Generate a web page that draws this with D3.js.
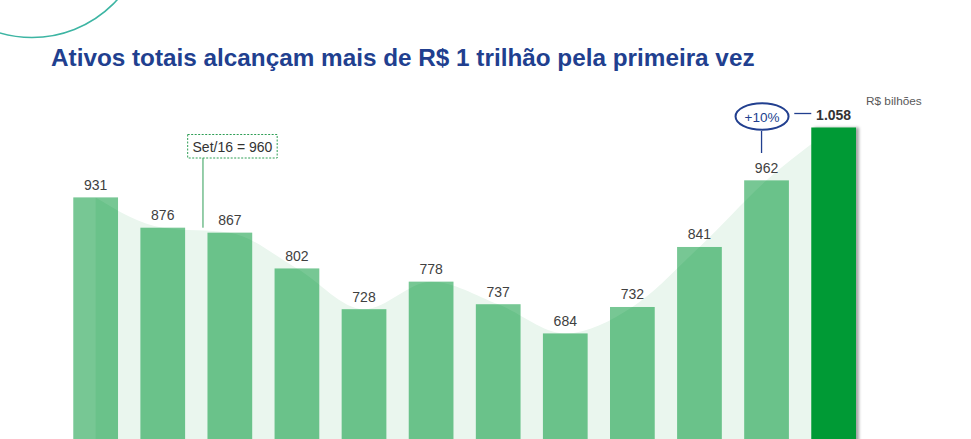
<!DOCTYPE html>
<html>
<head>
<meta charset="utf-8">
<script src="https://cdn.jsdelivr.net/npm/d3@7"></script>
<style>
  html, body { margin: 0; padding: 0; background: #fff; overflow: hidden; }
  svg { display: block; font-family: "Liberation Sans", Arial, sans-serif; }
</style>
</head>
<body>
<svg class="chart" width="971" height="439"></svg>
<script>
// dados (R$ bilhões) - 12 períodos, o último é o destaque
var periods = ["p1", "p2", "p3", "p4", "p5", "p6", "p7", "p8", "p9", "p10", "p11", "p12"];
var values = [931, 876, 867, 802, 728, 778, 737, 684, 732, 841, 962, 1058];
var valueLabels = ["931", "876", "867", "802", "728", "778", "737", "684", "732", "841", "962", "1.058"];
var noteText = "Set/16 = 960";
var growthText = "+10%";

var svg = d3.select(".chart");
var last = values.length - 1;

var x = d3.scaleBand()
    .domain(periods)
    .range([73.3, 856])
    .paddingInner(1 / 3)
    .paddingOuter(0);

var y = d3.scaleLinear()
    .domain([0, 1058])
    .range([710, 127.5]);

function cx(i) { return x(periods[i]) + x.bandwidth() / 2; }

// area clara passando pelo topo (centro) das barras
var area = d3.area()
    .x(function(d, i) { return cx(i); })
    .y0(y(0))
    .y1(function(d) { return y(d); })
    .curve(d3.curveMonotoneX);

var defs = svg.append("defs");
var shadow = defs.append("filter").attr("id", "shadow")
    .attr("x", "-20%").attr("y", "-5%").attr("width", "150%").attr("height", "120%");
shadow.append("feDropShadow")
    .attr("dx", 3).attr("dy", 0).attr("stdDeviation", 1.6)
    .attr("flood-color", "#000").attr("flood-opacity", 0.35);

// mascara: tudo menos a area
var mask = defs.append("mask").attr("id", "outside");
mask.append("rect").attr("width", 971).attr("height", 800).attr("fill", "#fff");
mask.append("path").datum(values).attr("d", area).attr("fill", "#000");

// arco decorativo no canto
svg.append("circle")
    .attr("cx", 32).attr("cy", -77.5).attr("r", 115)
    .attr("fill", "none")
    .attr("stroke", "#3db5a3")
    .attr("stroke-width", 1.6);

// titulo
var title = svg.append("text")
    .attr("x", 51).attr("y", 66)
    .attr("fill", "#213f8f")
    .attr("font-weight", "bold")
    .style("font-size", "24px")
    .text("Ativos totais alcançam mais de R$ 1 trilhão pela primeira vez");
var tw = title.node().getComputedTextLength();
title.style("font-size", (24 * 704 / tw) + "px");

svg.append("text")
    .attr("x", 866).attr("y", 105)
    .attr("fill", "#595959")
    .style("font-size", "11.8px")
    .text("R$ bilhões");

svg.append("path")
    .datum(values)
    .attr("d", area)
    .attr("fill", "#eaf6ee");

// barras
svg.selectAll("rect.bar")
    .data(values)
    .enter().append("rect")
    .attr("class", "bar")
    .attr("x", function(d, i) { return x(periods[i]); })
    .attr("width", x.bandwidth())
    .attr("y", function(d) { return y(d); })
    .attr("height", function(d) { return y(0) - y(d); })
    .attr("fill", function(d, i) { return i == last ? "#009a35" : "#6ac28a"; })
    .attr("filter", function(d, i) { return i == last ? "url(#shadow)" : null; });

// parte das barras fora da area fica um pouco mais clara
svg.append("g")
    .attr("mask", "url(#outside)")
    .selectAll("rect")
    .data(values.slice(0, last))
    .enter().append("rect")
    .attr("x", function(d, i) { return x(periods[i]); })
    .attr("width", x.bandwidth())
    .attr("y", function(d) { return y(d); })
    .attr("height", function(d) { return y(0) - y(d); })
    .attr("fill", "#fff")
    .attr("fill-opacity", 0.09);

// rótulos
svg.selectAll("text.val")
    .data(values)
    .enter().append("text")
    .attr("class", "val")
    .attr("x", function(d, i) { return cx(i); })
    .attr("y", function(d) { return y(d) - 7.5; })
    .attr("text-anchor", "middle")
    .attr("fill", function(d, i) { return i == last ? "#333" : "#404040"; })
    .attr("font-weight", function(d, i) { return i == last ? "bold" : "normal"; })
    .style("font-size", "14px")
    .text(function(d, i) { return valueLabels[i]; });

// nota Set/16
var nx = x(periods[2]) - 4.5;
svg.append("line")
    .attr("x1", nx).attr("x2", nx)
    .attr("y1", 158).attr("y2", y(values[1]))
    .attr("stroke", "#2e9e55").attr("stroke-width", 1);
svg.append("rect")
    .attr("x", nx - 15.3).attr("y", 134.5)
    .attr("width", 89.5).attr("height", 23.5)
    .attr("fill", "#fff")
    .attr("stroke", "#2e9e55").attr("stroke-width", 1)
    .attr("stroke-dasharray", "2,1.5");
svg.append("text")
    .attr("x", nx - 15.3 + 44.75).attr("y", 151.5)
    .attr("text-anchor", "middle")
    .attr("fill", "#333")
    .style("font-size", "14px")
    .text(noteText);

// +10%
var gx = cx(10) - 5;
svg.append("line")
    .attr("x1", gx).attr("x2", gx)
    .attr("y1", 131).attr("y2", 153)
    .attr("stroke", "#213f8f").attr("stroke-width", 1.3);
svg.append("ellipse")
    .attr("cx", gx + 0.5).attr("cy", 116.5)
    .attr("rx", 26.5).attr("ry", 13.2)
    .attr("fill", "#fff")
    .attr("stroke", "#213f8f").attr("stroke-width", 2);
svg.append("text")
    .attr("x", gx + 0.5).attr("y", 121.5)
    .attr("text-anchor", "middle")
    .attr("fill", "#213f8f")
    .style("font-size", "13.5px")
    .text(growthText);
svg.append("line")
    .attr("x1", x(periods[last]) - 17).attr("x2", x(periods[last]))
    .attr("y1", 113.5).attr("y2", 113.5)
    .attr("stroke", "#213f8f").attr("stroke-width", 1.3);
</script>
</body>
</html>
